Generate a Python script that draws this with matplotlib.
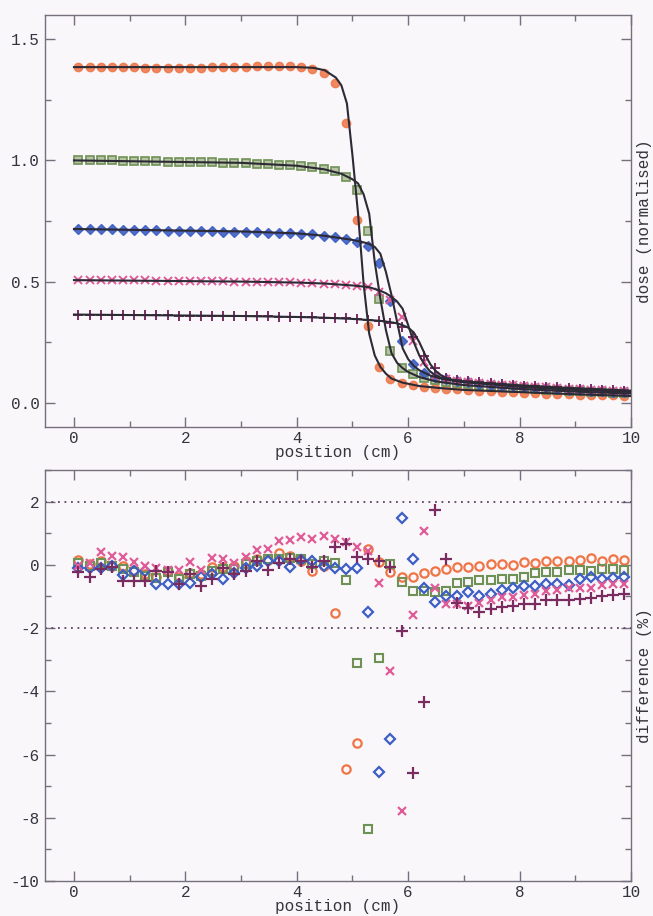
import matplotlib
matplotlib.use("Agg")
import matplotlib.pyplot as plt
from matplotlib.ticker import MultipleLocator, FormatStrFormatter

plt.rcParams['font.family'] = ['Liberation Mono', 'DejaVu Sans Mono']
plt.rcParams['axes.unicode_minus'] = False
plt.rcParams['font.size'] = 11.5

# measurement positions (cm)
pos = [0.08, 0.28, 0.48, 0.68, 0.88, 1.08, 1.28, 1.48, 1.68, 1.88,
       2.08, 2.28, 2.48, 2.68, 2.88, 3.08, 3.28, 3.48, 3.68, 3.88,
       4.08, 4.28, 4.48, 4.68, 4.88, 5.08, 5.28, 5.48, 5.68, 5.88,
       6.08, 6.28, 6.48, 6.68, 6.88, 7.08, 7.28, 7.48, 7.68, 7.88,
       8.08, 8.28, 8.48, 8.68, 8.88, 9.08, 9.28, 9.48, 9.68, 9.88]

# measured dose (normalised)
dose_orange = [1.387, 1.385, 1.387, 1.385, 1.385, 1.384, 1.382, 1.380, 1.382, 1.380,
               1.381, 1.381, 1.384, 1.384, 1.385, 1.387, 1.388, 1.388, 1.389, 1.388,
               1.387, 1.379, 1.36, 1.32, 1.153, 0.756, 0.317, 0.149, 0.10, 0.082,
               0.072, 0.066, 0.062, 0.058, 0.055, 0.052, 0.05, 0.048, 0.046, 0.044,
               0.042, 0.04, 0.038, 0.037, 0.035, 0.034, 0.032, 0.031, 0.03, 0.029]
dose_green = [1.001, 1.000, 1.001, 1.000, 0.999, 0.998, 0.997, 0.996, 0.995, 0.994,
              0.994, 0.993, 0.992, 0.991, 0.990, 0.989, 0.987, 0.985, 0.983, 0.981,
              0.978, 0.972, 0.965, 0.955, 0.93, 0.878, 0.707, 0.43, 0.212, 0.142,
              0.117, 0.103, 0.094, 0.087, 0.081, 0.076, 0.072, 0.068, 0.065, 0.062,
              0.059, 0.056, 0.053, 0.051, 0.049, 0.047, 0.045, 0.043, 0.041, 0.039]
dose_blue = [0.717, 0.716, 0.716, 0.715, 0.714, 0.713, 0.712, 0.711, 0.710, 0.709,
             0.708, 0.708, 0.707, 0.706, 0.705, 0.704, 0.703, 0.702, 0.701, 0.700,
             0.698, 0.695, 0.689, 0.683, 0.676, 0.663, 0.645, 0.576, 0.42, 0.256,
             0.158, 0.122, 0.106, 0.097, 0.09, 0.084, 0.079, 0.075, 0.071, 0.068,
             0.065, 0.062, 0.059, 0.056, 0.054, 0.052, 0.05, 0.048, 0.046, 0.044]
dose_pink = [0.507, 0.507, 0.508, 0.507, 0.507, 0.506, 0.505, 0.504, 0.503, 0.503,
             0.503, 0.502, 0.502, 0.501, 0.500, 0.500, 0.499, 0.499, 0.498, 0.497,
             0.496, 0.494, 0.492, 0.489, 0.486, 0.482, 0.476, 0.458, 0.424, 0.355,
             0.255, 0.168, 0.112, 0.098, 0.091, 0.086, 0.082, 0.078, 0.075, 0.072,
             0.069, 0.066, 0.063, 0.061, 0.058, 0.056, 0.054, 0.052, 0.05, 0.048]
dose_purple = [0.364, 0.364, 0.364, 0.363, 0.363, 0.362, 0.362, 0.361, 0.361, 0.360,
               0.360, 0.359, 0.359, 0.358, 0.358, 0.357, 0.356, 0.356, 0.355, 0.354,
               0.353, 0.352, 0.351, 0.350, 0.348, 0.345, 0.342, 0.338, 0.331, 0.314,
               0.27, 0.195, 0.142, 0.104, 0.094, 0.088, 0.084, 0.08, 0.077, 0.074,
               0.071, 0.068, 0.065, 0.063, 0.06, 0.058, 0.056, 0.054, 0.052, 0.05]

# calculated profiles
calc_x_orange = [0, 4.0, 4.3, 4.5, 4.7, 4.8, 4.9, 5.0, 5.1, 5.2, 5.3, 5.4, 5.5,
                 5.6, 5.7, 5.9, 6.2, 6.6, 7.0, 8.0, 9.0, 10.0]
calc_orange = [1.385, 1.385, 1.382, 1.372, 1.342, 1.31, 1.235, 1.02, 0.78, 0.49,
               0.285, 0.195, 0.148, 0.12, 0.10, 0.083, 0.069, 0.06, 0.053, 0.044,
               0.035, 0.028]
calc_x_green = [0, 3.0, 4.0, 4.5, 4.8, 5.0, 5.1, 5.2, 5.3, 5.4, 5.5, 5.6, 5.7,
                5.8, 5.9, 6.0, 6.2, 6.5, 7.0, 8.0, 9.0, 10.0]
calc_green = [1.0, 0.99, 0.978, 0.963, 0.945, 0.922, 0.905, 0.86, 0.78, 0.58,
              0.43, 0.30, 0.205, 0.165, 0.143, 0.127, 0.106, 0.088, 0.073, 0.057,
              0.046, 0.038]
calc_x_blue = [0, 3.0, 4.0, 4.5, 5.0, 5.2, 5.3, 5.4, 5.5, 5.6, 5.7, 5.8, 5.9,
               6.0, 6.1, 6.2, 6.4, 6.6, 7.0, 8.0, 9.0, 10.0]
calc_blue = [0.717, 0.707, 0.699, 0.689, 0.672, 0.662, 0.655, 0.643, 0.615, 0.54,
             0.445, 0.335, 0.225, 0.18, 0.152, 0.134, 0.112, 0.099, 0.085, 0.066,
             0.053, 0.045]
calc_x_pink = [0, 3.0, 4.0, 4.5, 5.0, 5.3, 5.5, 5.6, 5.7, 5.8, 5.9, 6.0, 6.1,
               6.2, 6.3, 6.4, 6.5, 6.6, 6.8, 7.0, 8.0, 9.0, 10.0]
calc_pink = [0.506, 0.500, 0.496, 0.492, 0.484, 0.477, 0.462, 0.452, 0.437, 0.418,
             0.388, 0.32, 0.25, 0.195, 0.155, 0.128, 0.112, 0.102, 0.092, 0.086,
             0.07, 0.058, 0.048]
calc_x_purple = [0, 3.0, 4.0, 4.5, 5.0, 5.5, 5.7, 5.8, 5.9, 6.0, 6.1, 6.2, 6.3,
                 6.4, 6.5, 6.6, 6.7, 6.8, 7.0, 8.0, 9.0, 10.0]
calc_purple = [0.364, 0.358, 0.354, 0.351, 0.346, 0.338, 0.332, 0.328, 0.32, 0.31,
               0.29, 0.25, 0.2, 0.158, 0.13, 0.112, 0.1, 0.094, 0.088, 0.072,
               0.06, 0.05]

# difference measured - calculated (%)
diff_orange = [0.16, 0.02, 0.13, -0.03, -0.03, -0.15, -0.29, -0.38, -0.2, -0.38,
               -0.27, -0.29, -0.08, -0.06, -0.03, 0.13, 0.18, 0.15, 0.36, 0.28,
               0.13, -0.21, -0.05, -1.53, -6.47, -5.65, 0.49, 0.1, -0.24, -0.38,
               -0.38, -0.27, -0.2, -0.12, -0.08, -0.08, -0.03, 0.02, 0.02, 0.0,
               0.1, 0.07, 0.13, 0.13, 0.13, 0.15, 0.21, 0.13, 0.18, 0.16]
diff_green = [0.07, -0.05, 0.07, -0.03, -0.14, -0.24, -0.34, -0.43, -0.24, -0.45,
              -0.29, -0.34, -0.19, -0.14, -0.14, 0.02, 0.13, 0.18, 0.18, 0.21,
              0.18, 0.02, 0.13, 0.05, -0.48, -3.1, -8.36, -2.94, 0.04, -0.54,
              -0.84, -0.82, -0.85, -0.82, -0.59, -0.55, -0.48, -0.48, -0.45, -0.45,
              -0.38, -0.27, -0.24, -0.24, -0.17, -0.17, -0.2, -0.12, -0.12, -0.17]
diff_blue = [-0.1, -0.1, -0.1, -0.05, -0.31, -0.21, -0.21, -0.61, -0.61, -0.61,
             -0.56, -0.38, -0.29, -0.45, -0.27, -0.1, -0.03, 0.13, 0.13, -0.08,
             0.15, 0.12, -0.03, -0.09, -0.14, -0.11, -1.5, -6.56, -5.52, 1.49,
             0.18, -0.73, -1.16, -1.0, -0.97, -0.87, -1.0, -0.93, -0.8, -0.74,
             -0.67, -0.67, -0.6, -0.62, -0.63, -0.45, -0.38, -0.45, -0.42, -0.37]
diff_pink = [-0.03, 0.05, 0.41, 0.28, 0.25, 0.1, -0.05, -0.1, -0.15, -0.15,
             0.1, -0.15, 0.22, 0.18, 0.07, 0.25, 0.47, 0.51, 0.76, 0.8,
             0.88, 0.81, 0.9, 0.82, 0.73, 0.58, 0.45, -0.56, -3.37, -7.8,
             -1.6, 1.07, -0.72, -1.24, -1.25, -1.3, -1.2, -1.1, -1.03, -1.03,
             -0.95, -0.92, -0.84, -0.78, -0.73, -0.73, -0.73, -0.65, -0.62, -0.62]
diff_purple = [-0.24, -0.4, -0.14, -0.08, -0.5, -0.5, -0.52, -0.19, -0.24, -0.6,
               -0.3, -0.68, -0.45, -0.1, -0.29, -0.19, 0.13, -0.16, 0.07, 0.18,
               0.13, -0.06, 0.13, 0.55, 0.65, 0.25, 0.18, 0.13, -0.08, -2.08,
               -6.57, -4.34, 1.75, 0.18, -1.2, -1.35, -1.5, -1.4, -1.33, -1.3,
               -1.25, -1.25, -1.1, -1.1, -1.1, -1.08, -1.05, -0.97, -0.95, -0.93]

tolerance = [2, -2]

bg = '#f9f7fa'
axis_col = '#76707e'
text_col = '#34343c'
c_orange = '#ef7446'
c_green = '#6f9156'
c_blue = '#3d5ec4'
c_pink = '#e05c98'
c_purple = '#7a2c60'
c_line = '#2c2a34'

fig = plt.figure(figsize=(6.53, 9.16), dpi=100, facecolor=bg)
ax1 = fig.add_axes([45 / 653, 1 - 427 / 916, 586 / 653, 412 / 916])
ax2 = fig.add_axes([45 / 653, 1 - 881 / 916, 586 / 653, 411 / 916])


def style(ax):
    ax.set_facecolor(bg)
    for s in ax.spines.values():
        s.set_color(axis_col)
        s.set_linewidth(1.0)
    ax.set_xlim(-0.52, 10)
    ax.xaxis.set_major_locator(MultipleLocator(2))
    ax.xaxis.set_minor_locator(MultipleLocator(1))
    ax.tick_params(which='both', direction='in', top=True, right=True,
                   color=axis_col, labelcolor=text_col, width=1.0)
    ax.tick_params(which='major', length=7)
    ax.tick_params(which='minor', length=4)
    ax.tick_params(axis='x', pad=3)
    ax.tick_params(axis='y', pad=4)
    ax.set_xlabel('position (cm)', color=text_col, labelpad=-1)
    ax.yaxis.set_label_position('right')


# dose profiles
style(ax1)
ax1.set_ylim(-0.1, 1.6)
ax1.yaxis.set_major_locator(MultipleLocator(0.5))
ax1.yaxis.set_minor_locator(MultipleLocator(0.25))
ax1.yaxis.set_major_formatter(FormatStrFormatter('%.1f'))
ax1.set_ylabel('dose (normalised)', color=text_col, labelpad=4)

ax1.plot(pos, dose_orange, 'o', ms=6, mfc=c_orange, mec=c_orange, alpha=0.85)
ax1.plot(pos, dose_green, 's', ms=5.5, mfc='#b9c4a6', mec=c_green, mew=1.2)
ax1.plot(pos, dose_blue, 'D', ms=5.5, mfc=c_blue, mec=c_blue, alpha=0.9)
ax1.plot(pos, dose_pink, 'x', ms=6, mec=c_pink, mew=1.4)
ax1.plot(pos, dose_purple, '+', ms=7, mec=c_purple, mew=1.4)

for lx, ly in [(calc_x_orange, calc_orange), (calc_x_green, calc_green),
               (calc_x_blue, calc_blue), (calc_x_pink, calc_pink),
               (calc_x_purple, calc_purple)]:
    ax1.plot(lx, ly, '-', color=c_line, lw=1.5, zorder=5)

# differences
style(ax2)
ax2.set_ylim(-10, 3)
ax2.yaxis.set_major_locator(MultipleLocator(2))
ax2.yaxis.set_minor_locator(MultipleLocator(1))
ax2.set_ylabel('difference (%)', color=text_col, labelpad=4)

for t in tolerance:
    ax2.axhline(t, color='#5a4462', lw=1.3, ls=(0, (1, 2.6)))

ax2.plot(pos, diff_orange, 'o', ms=6, mfc='none', mec=c_orange, mew=1.6)
ax2.plot(pos, diff_green, 's', ms=5.5, mfc='none', mec=c_green, mew=1.5)
ax2.plot(pos, diff_blue, 'D', ms=5.5, mfc='none', mec=c_blue, mew=1.6)
ax2.plot(pos, diff_pink, 'x', ms=6, mec=c_pink, mew=1.6)
ax2.plot(pos, diff_purple, '+', ms=8, mec=c_purple, mew=1.6)

fig.savefig('out.png', dpi=100, facecolor=bg)
